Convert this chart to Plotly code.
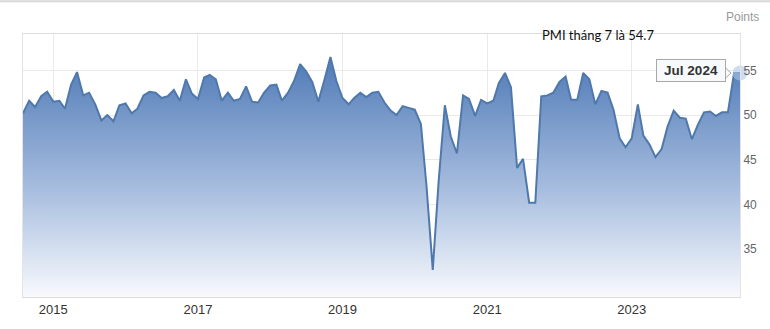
import pandas as pd
import plotly.graph_objects as go

# Vietnam manufacturing PMI, monthly Aug 2014 - Jul 2024
start_month = "2014-08-01"
pmi = [
    50.2, 51.6, 50.9, 52.1, 52.6,                                      # 2014
    51.5, 51.6, 50.7, 53.4, 54.8, 52.2, 52.5, 51.2, 49.4, 50.0, 49.3, 51.1,  # 2015
    51.3, 50.2, 50.7, 52.2, 52.6, 52.5, 51.9, 52.1, 52.8, 51.6, 54.0, 52.4,  # 2016
    51.8, 54.2, 54.5, 54.0, 51.6, 52.5, 51.6, 51.8, 53.2, 51.5, 51.4, 52.5,  # 2017
    53.3, 53.4, 51.6, 52.5, 53.8, 55.7, 54.9, 53.7, 51.5, 53.9, 56.5, 53.8,  # 2018
    51.9, 51.2, 51.9, 52.5, 52.0, 52.5, 52.6, 51.4, 50.5, 50.0, 51.0, 50.8,  # 2019
    50.6, 49.0, 41.9, 32.7, 42.7, 51.1, 47.6, 45.7, 52.2, 51.8, 49.9, 51.7,  # 2020
    51.3, 51.6, 53.6, 54.7, 53.1, 44.1, 45.1, 40.2, 40.2, 52.1, 52.2, 52.5,  # 2021
    53.7, 54.3, 51.7, 51.7, 54.7, 54.0, 51.2, 52.7, 52.5, 50.6, 47.4, 46.4,  # 2022
    47.4, 51.2, 47.7, 46.7, 45.3, 46.2, 48.7, 50.5, 49.7, 49.6, 47.3, 48.9,  # 2023
    50.3, 50.4, 49.9, 50.3, 50.3, 54.7, 54.7,                                # 2024
]
dates = pd.date_range(start_month, periods=len(pmi), freq="MS")

y_ticks = [35, 40, 45, 50, 55]
x_tick_years = ["2015", "2017", "2019", "2021", "2023"]
unit_label = "Points"
note_text = "PMI tháng 7 là 54.7"
tooltip_text = "Jul 2024"

y_min, y_max = 29.66, 59.06
font_main = "Arial, Liberation Sans, sans-serif"
plot_w, plot_h = 717, 266

fig = go.Figure()
fig.add_trace(go.Scatter(
    x=dates, y=pmi, mode="lines",
    line=dict(color="#4f78ab", width=2),
    fill="tozeroy",
    fillgradient=dict(
        type="vertical",
        start=y_min, stop=56.5,
        colorscale=[[0, "rgb(250,251,254)"], [0.45, "rgb(168,190,223)"],
                    [1, "rgb(80,122,183)"]],
    ),
    hoverinfo="x+y", showlegend=False,
))
# highlight halo at latest point
fig.add_trace(go.Scatter(
    x=[dates[-1]], y=[pmi[-1]], mode="markers",
    marker=dict(size=15, color="rgba(175,198,230,0.6)", line=dict(width=0)),
    showlegend=False, hoverinfo="skip", cliponaxis=False,
))

fig.update_layout(
    width=770, height=329,
    margin=dict(l=23, r=30, t=34, b=29),
    paper_bgcolor="white", plot_bgcolor="white",
    font=dict(family=font_main, size=12, color="#333"),
    xaxis=dict(
        range=[dates[0], dates[-1]],
        tickvals=[pd.Timestamp(y + "-01-01") for y in x_tick_years],
        ticktext=x_tick_years,
        showgrid=True, gridcolor="#e9e9e9", gridwidth=1,
        showline=True, linecolor="#dcdcdc", linewidth=1, mirror=True,
        ticks="", tickfont=dict(size=13, color="#333"),
        zeroline=False,
    ),
    yaxis=dict(
        range=[y_min, y_max], side="right",
        tickvals=y_ticks,
        showgrid=True, gridcolor="#e9e9e9", gridwidth=1,
        showline=True, linecolor="#e4e4e4", linewidth=1, mirror=True,
        ticks="", tickfont=dict(size=12, color="#666"),
        zeroline=False,
    ),
    hovermode=False,
)

fig.add_annotation(
    x=1.0, y=1 + 17 / plot_h, xref="paper", yref="paper",
    text=unit_label, showarrow=False, xanchor="left", yanchor="middle",
    xshift=-16, font=dict(size=12, color="#999", family=font_main),
)
fig.add_annotation(
    x=(540 - 23) / plot_w, y=1 - (35.5 - 34) / plot_h, xref="paper", yref="paper",
    text=note_text, showarrow=False, xanchor="left", yanchor="middle",
    font=dict(size=13, color="#111", family="Lato, Open Sans, sans-serif"),
)
# tooltip pointer
fig.add_shape(
    type="path", xref="x", yref="y",
    xsizemode="pixel", ysizemode="pixel",
    xanchor=dates[-1], yanchor=pmi[-1],
    path="M -15.5,6 L -9,0 L -15.5,-6",
    fillcolor="rgb(247,249,252)", line=dict(color="#a8a8a8", width=1),
    layer="above",
)
fig.add_annotation(
    x=dates[-1], y=pmi[-1], xref="x", yref="y",
    text="<b>" + tooltip_text + "</b>", showarrow=False,
    xanchor="right", yanchor="middle", xshift=-14, yshift=2.5,
    width=66, height=19, align="center", valign="middle",
    bgcolor="rgb(247,249,252)", bordercolor="#a8a8a8",
    borderwidth=1, borderpad=1,
    font=dict(size=13.5, color="#333", family=font_main),
)
# top frame line of the widget
fig.add_shape(type="line", xref="paper", yref="paper",
              x0=-23 / plot_w, x1=1 + 30 / plot_w, y0=1 + 33 / plot_h, y1=1 + 33 / plot_h,
              line=dict(color="#d8d8d8", width=2))

fig.write_html("out.html")
